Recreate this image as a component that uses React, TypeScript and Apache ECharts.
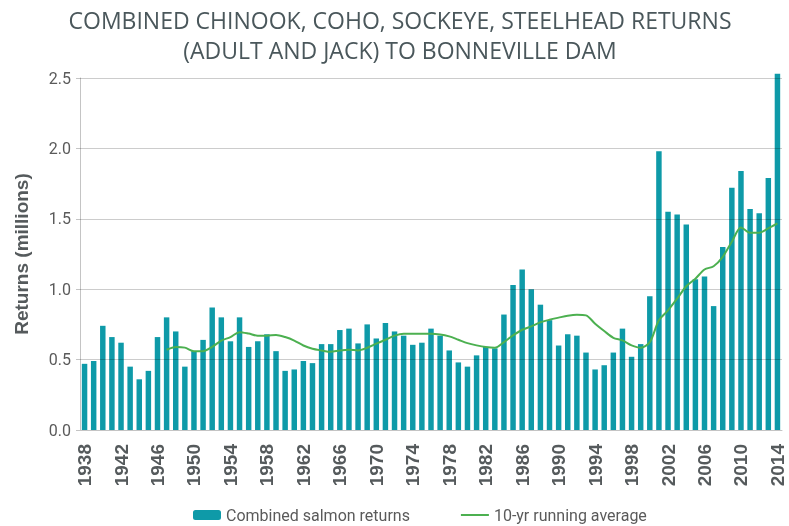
import React, { useEffect, useRef } from "react";
import * as echarts from "echarts";

const years: string[] = [];
for (let y = 1938; y <= 2014; y++) years.push(String(y));

const salmonReturns: number[] = [
  0.47, 0.49, 0.74, 0.66, 0.62, 0.45, 0.36, 0.42, 0.66, 0.80, // 1938-1947
  0.70, 0.45, 0.56, 0.64, 0.87, 0.80, 0.63, 0.80, 0.59, 0.63, // 1948-1957
  0.68, 0.56, 0.42, 0.43, 0.49, 0.475, 0.61, 0.61, 0.71, 0.72, // 1958-1967
  0.615, 0.75, 0.65, 0.76, 0.70, 0.67, 0.605, 0.62, 0.72, 0.67, // 1968-1977
  0.565, 0.48, 0.45, 0.53, 0.59, 0.58, 0.82, 1.03, 1.14, 1.00, // 1978-1987
  0.89, 0.78, 0.60, 0.68, 0.67, 0.55, 0.43, 0.46, 0.55, 0.72, // 1988-1997
  0.52, 0.61, 0.95, 1.98, 1.55, 1.53, 1.46, 1.07, 1.09, 0.88, // 1998-2007
  1.30, 1.72, 1.84, 1.57, 1.54, 1.79, 2.53, // 2008-2014
];

const runningAverage: (number | null)[] = [
  null, null, null, null, null, null, null, null, null, 0.57, // 1938-1947
  0.59, 0.585, 0.56, 0.56, 0.59, 0.635, 0.66, 0.695, 0.685, 0.67, // 1948-1957
  0.67, 0.675, 0.66, 0.635, 0.60, 0.577, 0.565, 0.555, 0.565, 0.57, // 1958-1967
  0.565, 0.584, 0.613, 0.641, 0.67, 0.684, 0.684, 0.684, 0.684, 0.679, // 1968-1977
  0.665, 0.641, 0.617, 0.601, 0.589, 0.584, 0.624, 0.672, 0.712, 0.736, // 1978-1987
  0.765, 0.783, 0.798, 0.812, 0.819, 0.814, 0.755, 0.703, 0.655, 0.636, // 1988-1997
  0.601, 0.584, 0.624, 0.779, 0.85, 0.933, 1.021, 1.075, 1.14, 1.163, // 1998-2007
  1.23, 1.337, 1.439, 1.401, 1.401, 1.432, 1.467, // 2008-2014
];

const yTicks = [0, 0.5, 1.0, 1.5, 2.0, 2.5];

export default function App() {
  const ref = useRef<HTMLDivElement>(null);
  useEffect(() => {
    document.body.style.margin = "0";
    if (!ref.current) return;
    const chart = echarts.init(ref.current, undefined, { renderer: "svg" });
    chart.setOption({
      animation: false,
      title: {
        text: "COMBINED CHINOOK, COHO, SOCKEYE, STEELHEAD RETURNS\n(ADULT AND JACK) TO BONNEVILLE DAM",
        left: 400,
        top: 5,
        padding: 0,
        textAlign: "center",
        textStyle: {
          fontFamily: "Open Sans",
          fontWeight: "normal",
          fontSize: 23,
          lineHeight: 30,
          color: "#4a575b",
        },
      },
      legend: {
        top: 507,
        left: 193,
        padding: 0,
        itemWidth: 28,
        itemHeight: 10,
        itemGap: 50,
        textStyle: { fontFamily: "Roboto", fontSize: 16, color: "#5a5a5a" },
        data: [
          { name: "Combined salmon returns" },
          { name: "10-yr running average", itemStyle: { opacity: 0 } },
        ],
      },
      grid: { left: 80, right: 7, top: 78, bottom: 96 },
      xAxis: {
        type: "category",
        data: years,
        boundaryGap: true,
        axisLine: { lineStyle: { color: "#c4c4c4" } },
        axisTick: { interval: 3, length: 6, lineStyle: { color: "#c4c4c4" } },
        axisLabel: {
          interval: 3,
          rotate: 90,
          margin: 14,
          fontFamily: "Liberation Sans",
          fontWeight: "bold",
          fontSize: 19,
          color: "#555a5c",
        },
      },
      yAxis: {
        type: "value",
        min: 0,
        max: 2.5,
        interval: 0.5,
        name: "Returns (millions)",
        nameLocation: "middle",
        nameRotate: 90,
        nameGap: 49,
        nameTextStyle: {
          fontFamily: "Liberation Sans",
          fontWeight: "bold",
          fontSize: 19,
          color: "#555a5c",
        },
        axisLine: { show: true, lineStyle: { color: "#c4c4c4" } },
        axisTick: { show: true, length: 4, lineStyle: { color: "#c4c4c4" } },
        axisLabel: {
          fontFamily: "Roboto",
          fontSize: 16,
          color: "#5a5a5a",
          margin: 9,
          formatter: (v: number) => v.toFixed(1),
        },
        splitLine: { show: false },
      },
      series: [
        {
          name: "Combined salmon returns",
          type: "bar",
          data: salmonReturns,
          barWidth: "60%",
          clip: false,
          itemStyle: { color: "#0e9aa8" },
          markLine: {
            silent: true,
            symbol: "none",
            label: { show: false },
            lineStyle: { color: "rgba(0,0,0,0.2)", type: "solid", width: 1 },
            data: yTicks.slice(1).map((v) => ({ yAxis: v })),
          },
        },
        {
          name: "10-yr running average",
          type: "line",
          data: runningAverage,
          smooth: 0.3,
          symbol: "none",
          lineStyle: { color: "#4cb050", width: 2 },
          itemStyle: { color: "#4cb050" },
          z: 5,
        },
      ],
    });
    return () => chart.dispose();
  }, []);
  return (
    <div
      ref={ref}
      style={{ position: "fixed", left: 0, top: 0, width: 789, height: 526 }}
    />
  );
}
